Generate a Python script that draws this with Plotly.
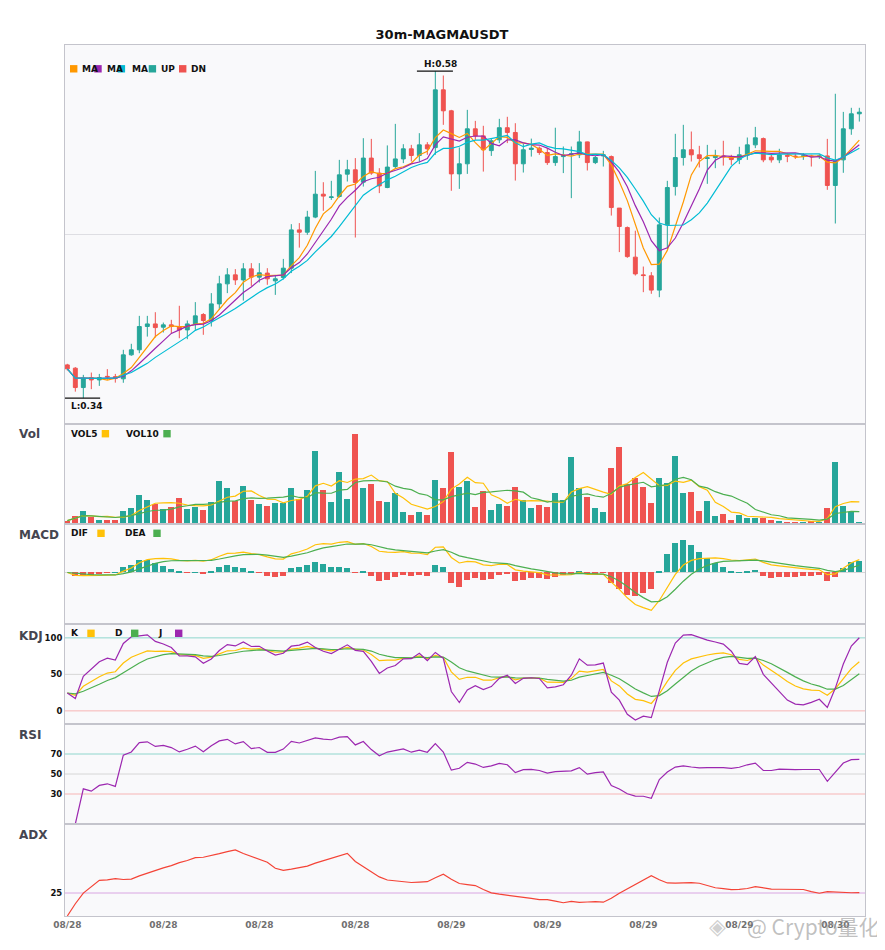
import numpy as np
import pandas as pd
import plotly.graph_objects as go
from plotly.subplots import make_subplots

symbol = "MAGMAUSDT"
interval = "30m"

# ---- data (100 candles) ----
opens = [
    0.3644, 0.3620, 0.3478, 0.3551, 0.3534, 0.3560, 0.3558, 0.3542, 0.3718, 0.3755,
    0.3926, 0.3945, 0.3921, 0.3938, 0.3923, 0.3901, 0.3945, 0.4014, 0.3970, 0.4092,
    0.4239, 0.4305, 0.4268, 0.4349, 0.4288, 0.4318, 0.4261, 0.4285, 0.4354, 0.4635,
    0.4618, 0.4729, 0.4897, 0.4873, 0.4880, 0.5044, 0.5076, 0.4985, 0.5162, 0.5052,
    0.4946, 0.5100, 0.5156, 0.5230, 0.5181, 0.5259, 0.5239, 0.5663, 0.5509, 0.5046,
    0.5120, 0.5377, 0.5325, 0.5217, 0.5296, 0.5385, 0.5350, 0.5120, 0.5225, 0.5235,
    0.5203, 0.5129, 0.5173, 0.5190, 0.5186, 0.5281, 0.5129, 0.5178, 0.5173, 0.4795,
    0.4652, 0.4435, 0.4305, 0.4298, 0.4193, 0.4672, 0.4953, 0.5166, 0.5223, 0.5186,
    0.5159, 0.5166, 0.5178, 0.5173, 0.5151, 0.5186, 0.5259, 0.5305, 0.5169, 0.5149,
    0.5181, 0.5176, 0.5176, 0.5178, 0.5173, 0.5178, 0.4961, 0.5149, 0.5377, 0.5487,
]
highs = [
    0.3652, 0.3628, 0.3571, 0.3588, 0.3578, 0.3613, 0.3578, 0.3755, 0.3799, 0.4004,
    0.4004, 0.4031, 0.3955, 0.3975, 0.4078, 0.3970, 0.4105, 0.4024, 0.4171, 0.4298,
    0.4354, 0.4347, 0.4391, 0.4391, 0.4391, 0.4354, 0.4300, 0.4422, 0.4677, 0.4685,
    0.4775, 0.5068, 0.4985, 0.4995, 0.5149, 0.5149, 0.5162, 0.5308, 0.5303, 0.5088,
    0.5255, 0.5413, 0.5264, 0.5259, 0.5345, 0.5279, 0.5800, 0.5768, 0.5516, 0.5240,
    0.5516, 0.5435, 0.5399, 0.5308, 0.5450, 0.5465, 0.5418, 0.5267, 0.5305, 0.5247,
    0.5235, 0.5385, 0.5247, 0.5247, 0.5362, 0.5283, 0.5178, 0.5215, 0.5181, 0.4795,
    0.4660, 0.4629, 0.4366, 0.4325, 0.4726, 0.4995, 0.5340, 0.5406, 0.5357, 0.5252,
    0.5259, 0.5223, 0.5289, 0.5186, 0.5245, 0.5313, 0.5391, 0.5313, 0.5186, 0.5230,
    0.5200, 0.5191, 0.5198, 0.5186, 0.5191, 0.5303, 0.5634, 0.5501, 0.5531, 0.5531,
]
lows = [
    0.3603, 0.3448, 0.3400, 0.3466, 0.3490, 0.3534, 0.3514, 0.3513, 0.3711, 0.3730,
    0.3852, 0.3845, 0.3882, 0.3877, 0.3840, 0.3833, 0.3901, 0.3865, 0.3926, 0.4048,
    0.4171, 0.4231, 0.4116, 0.4224, 0.4249, 0.4232, 0.4158, 0.4271, 0.4318, 0.4505,
    0.4599, 0.4721, 0.4775, 0.4855, 0.4872, 0.4990, 0.4579, 0.4953, 0.5039, 0.4905,
    0.4941, 0.5088, 0.5125, 0.5137, 0.5132, 0.5186, 0.5186, 0.5406, 0.4922, 0.4936,
    0.5046, 0.5296, 0.5063, 0.5178, 0.5272, 0.5272, 0.4997, 0.5056, 0.5173, 0.5186,
    0.5112, 0.5105, 0.5052, 0.4868, 0.5162, 0.5071, 0.5118, 0.5100, 0.4740, 0.4472,
    0.4430, 0.4300, 0.4178, 0.4166, 0.4141, 0.4494, 0.4887, 0.5107, 0.5137, 0.5093,
    0.4973, 0.5088, 0.5107, 0.5112, 0.5118, 0.5149, 0.5235, 0.5132, 0.5129, 0.5125,
    0.5132, 0.5156, 0.5149, 0.5100, 0.5156, 0.4929, 0.4682, 0.5054, 0.5333, 0.5430,
]
closes = [
    0.3615, 0.3478, 0.3547, 0.3534, 0.3551, 0.3556, 0.3544, 0.3718, 0.3755, 0.3926,
    0.3945, 0.3918, 0.3938, 0.3926, 0.3901, 0.3945, 0.4004, 0.3970, 0.4092, 0.4239,
    0.4305, 0.4268, 0.4349, 0.4288, 0.4320, 0.4276, 0.4276, 0.4354, 0.4635, 0.4618,
    0.4729, 0.4897, 0.4883, 0.4877, 0.5039, 0.5076, 0.4983, 0.5162, 0.5052, 0.4958,
    0.5096, 0.5156, 0.5230, 0.5181, 0.5259, 0.5230, 0.5663, 0.5509, 0.5046, 0.5120,
    0.5377, 0.5325, 0.5223, 0.5289, 0.5385, 0.5350, 0.5120, 0.5223, 0.5235, 0.5203,
    0.5129, 0.5173, 0.5184, 0.5193, 0.5281, 0.5129, 0.5166, 0.5186, 0.4799, 0.4660,
    0.4439, 0.4312, 0.4300, 0.4193, 0.4672, 0.4946, 0.5166, 0.5223, 0.5186, 0.5159,
    0.5164, 0.5178, 0.5171, 0.5151, 0.5186, 0.5259, 0.5311, 0.5149, 0.5149, 0.5186,
    0.5176, 0.5174, 0.5178, 0.5173, 0.5178, 0.4961, 0.5142, 0.5377, 0.5487, 0.5499,
]
# volume in thousands (no scale shown on the chart)
volumes = [
    10, 25, 40, 22, 13, 13, 13, 40, 49, 88,
    73, 61, 46, 52, 79, 46, 52, 43, 67, 130,
    109, 70, 115, 73, 61, 55, 64, 64, 109, 76,
    103, 220, 103, 67, 157, 76, 271, 109, 121, 70,
    67, 94, 37, 28, 37, 28, 133, 109, 217, 112,
    130, 52, 100, 43, 61, 55, 112, 73, 49, 58,
    52, 94, 73, 202, 109, 82, 49, 37, 169, 232,
    121, 139, 112, 64, 139, 124, 205, 94, 97, 40,
    70, 25, 31, 13, 28, 19, 19, 19, 13, 10,
    7, 7, 7, 10, 7, 49, 187, 55, 37, 4,
]

tick_idx = [0, 12, 24, 36, 48, 60, 72, 84, 96]
tick_labels = ["08/28", "08/28", "08/28", "08/28", "08/29", "08/29", "08/29", "08/29", "08/30"]

# ---- indicators ----
df = pd.DataFrame({"open": opens, "high": highs, "low": lows, "close": closes, "vol": volumes})
x = list(range(len(df)))
c = df["close"]

ma5 = c.rolling(5, min_periods=1).mean()
ma7 = c.rolling(7, min_periods=1).mean()
ma10 = c.rolling(10, min_periods=1).mean()

vol5 = df["vol"].rolling(5, min_periods=1).mean()
vol10 = df["vol"].rolling(10, min_periods=1).mean()

# fast MACD (6, 13, 5)
dif = c.ewm(span=6, adjust=False).mean() - c.ewm(span=13, adjust=False).mean()
dea = dif.ewm(span=5, adjust=False).mean()
hist = 2 * (dif - dea)

low9 = df["low"].rolling(9, min_periods=1).min()
high9 = df["high"].rolling(9, min_periods=1).max()
rsv = (c - low9) / (high9 - low9) * 100
k = rsv.ewm(com=2, adjust=False).mean()
d = k.ewm(com=2, adjust=False).mean()
j = 3 * k - 2 * d

delta = c.diff()
gain = delta.clip(lower=0).ewm(alpha=1 / 14, adjust=True).mean()
loss = (-delta.clip(upper=0)).ewm(alpha=1 / 14, adjust=True).mean()
rsi = 100 * gain / (gain + loss)

prev_c = c.shift(1)
tr = pd.concat([df["high"] - df["low"], (df["high"] - prev_c).abs(), (df["low"] - prev_c).abs()], axis=1).max(axis=1)
up_move = df["high"].diff()
dn_move = -df["low"].diff()
pdm = pd.Series(np.where((up_move > dn_move) & (up_move > 0), up_move, 0.0))
mdm = pd.Series(np.where((dn_move > up_move) & (dn_move > 0), dn_move, 0.0))
atr = tr.ewm(span=14, adjust=False).mean()
pdi = 100 * pdm.ewm(span=14, adjust=False).mean() / atr
mdi = 100 * mdm.ewm(span=14, adjust=False).mean() / atr
dx = (100 * (pdi - mdi).abs() / (pdi + mdi)).fillna(0)
adx = dx.ewm(span=14, adjust=False).mean()

# ---- styling ----
FONT = "DejaVu Sans"
G, R = "#26a69a", "#ef5350"
C_MA5, C_MA7, C_MA10 = "#ff9800", "#9c27b0", "#00bcd4"
C_Y, C_GR, C_PU = "#ffc107", "#4caf50", "#9c27b0"
BORDER = "#c4c4cc"
OFF = 8                      # page body margin
W, H = 885 - OFF, 950 - OFF
ML, MR, MT, MB = 65 - OFF, 20, 45 - OFF, 34
PW, PH = W - ML - MR, H - MT - MB

bar_colors = [G if cl >= op else R for op, cl in zip(opens, closes)]
hist_colors = [G if v >= 0 else R for v in hist]


def px(xp):
    # page pixel -> paper x
    return (xp - OFF - ML) / PW


def py(yp):
    # page pixel -> paper y
    return (H - MB - (yp - OFF)) / PH


fig = make_subplots(rows=6, cols=1, shared_xaxes=True, vertical_spacing=0,
                    row_heights=[379, 100, 100, 100, 100, 92])

# price
fig.add_trace(go.Candlestick(
    x=x, open=opens, high=highs, low=lows, close=closes,
    increasing=dict(line=dict(color=G, width=1), fillcolor=G),
    decreasing=dict(line=dict(color=R, width=1), fillcolor=R),
    name="K"), row=1, col=1)
for s, col, nm in [(ma5, C_MA5, "MA5"), (ma7, C_MA7, "MA7"), (ma10, C_MA10, "MA10")]:
    fig.add_trace(go.Scatter(x=x, y=s, mode="lines", line=dict(color=col, width=1.2), name=nm), row=1, col=1)

# volume
fig.add_trace(go.Bar(x=x, y=volumes, marker_color=bar_colors, marker_line_width=0, width=0.75, name="Vol"), row=2, col=1)
fig.add_trace(go.Scatter(x=x, y=vol5, mode="lines", line=dict(color=C_Y, width=1.2), name="VOL5"), row=2, col=1)
fig.add_trace(go.Scatter(x=x, y=vol10, mode="lines", line=dict(color=C_GR, width=1.2), name="VOL10"), row=2, col=1)

# macd
fig.add_trace(go.Bar(x=x, y=hist, marker_color=hist_colors, marker_line_width=0, width=0.75, name="MACD"), row=3, col=1)
fig.add_trace(go.Scatter(x=x, y=dif, mode="lines", line=dict(color=C_Y, width=1.2), name="DIF"), row=3, col=1)
fig.add_trace(go.Scatter(x=x, y=dea, mode="lines", line=dict(color=C_GR, width=1.2), name="DEA"), row=3, col=1)

# kdj
fig.add_trace(go.Scatter(x=x, y=k, mode="lines", line=dict(color=C_Y, width=1.2), name="K"), row=4, col=1)
fig.add_trace(go.Scatter(x=x, y=d, mode="lines", line=dict(color=C_GR, width=1.2), name="D"), row=4, col=1)
fig.add_trace(go.Scatter(x=x, y=j, mode="lines", line=dict(color=C_PU, width=1.2), name="J"), row=4, col=1)

# rsi / adx
fig.add_trace(go.Scatter(x=x, y=rsi, mode="lines", line=dict(color=C_PU, width=1.2), name="RSI"), row=5, col=1)
fig.add_trace(go.Scatter(x=x, y=adx, mode="lines", line=dict(color="#f44336", width=1.2), name="ADX"), row=6, col=1)

# reference lines
for yv, colr, row in [(100, "#8fd6cd", 4), (50, "#d6d6d6", 4), (0, "#f7b5b5", 4),
                      (70, "#8fd6cd", 5), (50, "#d6d6d6", 5), (30, "#f7b5b5", 5),
                      (25, "#d9a6e2", 6)]:
    fig.add_hline(y=yv, line=dict(color=colr, width=1), layer="below", row=row, col=1)

# axes
fig.update_xaxes(range=[-0.29, 99.71], showgrid=False, zeroline=False, showline=True, mirror=True,
                 linecolor=BORDER, linewidth=1, ticks="", rangeslider_visible=False)
fig.update_xaxes(tickmode="array", tickvals=tick_idx, ticktext=tick_labels,
                 tickfont=dict(family=FONT, size=9, color="#707070", weight="bold"), row=6, col=1)
fig.update_yaxes(showgrid=False, zeroline=False, showline=True, mirror=True, linecolor=BORDER,
                 linewidth=1, ticks="", showticklabels=False)

p_hi, p_lo = max(highs), min(lows)
span = p_hi - p_lo
y_lo, y_hi = p_lo - 0.079 * span, p_hi + 0.080 * span
fig.update_yaxes(range=[y_lo, y_hi], showgrid=True, gridcolor="#dedee3",
                 tickmode="array", tickvals=[(y_lo + y_hi) / 2], row=1, col=1)
fig.update_yaxes(range=[0, max(volumes) * 1.107], row=2, col=1)
m = max(dif.abs().max(), dea.abs().max(), hist.abs().max())
fig.update_yaxes(range=[-1.36 * m, 1.28 * m], zeroline=True, zerolinecolor="#d6d6d6", zerolinewidth=1,
                 row=3, col=1)
tick_font = dict(family=FONT, size=8.5, color="#111", weight="bold")
fig.update_yaxes(range=[-18, 119], showticklabels=True, tickmode="array", tickvals=[0, 50, 100],
                 tickfont=tick_font, row=4, col=1)
fig.update_yaxes(range=[0, 100], showticklabels=True, tickmode="array", tickvals=[30, 50, 70],
                 tickfont=tick_font, row=5, col=1)
fig.update_yaxes(range=[0, 100], showticklabels=True, tickmode="array", tickvals=[25],
                 tickfont=tick_font, row=6, col=1)

shapes = []
annotations = []

# high / low markers
hi_i, lo_i = int(np.argmax(highs)), int(np.argmin(lows))
shapes.append(dict(type="line", xref="x", yref="y", x0=hi_i - 2.3, x1=hi_i + 2.2, y0=p_hi, y1=p_hi,
                   line=dict(color="#111", width=1.2)))
shapes.append(dict(type="line", xref="x", yref="y", x0=lo_i - 2.4, x1=lo_i + 2.1, y0=p_lo, y1=p_lo,
                   line=dict(color="#111", width=1.2)))
annotations.append(dict(x=hi_i + 0.7, y=p_hi, xref="x", yref="y", text=f"H:{p_hi:.2f}", showarrow=False,
                        yanchor="bottom", yshift=0, font=dict(family=FONT, size=9, color="#111", weight="bold")))
annotations.append(dict(x=lo_i + 0.4, y=p_lo, xref="x", yref="y", text=f"L:{p_lo:.2f}", showarrow=False,
                        yanchor="top", yshift=-1, font=dict(family=FONT, size=9, color="#111", weight="bold")))


def legend(items, ycen):
    for kind, x0, val, colr in items:
        if kind == "sq":
            shapes.append(dict(type="rect", xref="paper", yref="paper", x0=px(x0), x1=px(x0 + 7.4),
                               y0=py(ycen + 3.7), y1=py(ycen - 3.7), fillcolor=colr, line=dict(width=0)))
        else:
            annotations.append(dict(x=px(x0), y=py(ycen), xref="paper", yref="paper", text=val,
                                    showarrow=False, xanchor="left", yanchor="middle",
                                    font=dict(family=FONT, size=9, color="#111", weight="bold")))


legend([("sq", 70, "", C_MA5), ("tx", 80, "MA", ""), ("sq", 94.3, "", C_MA7), ("tx", 104.5, "MA", ""),
        ("sq", 117.7, "", C_MA10), ("tx", 130, "MA", ""), ("sq", 148.7, "", G), ("tx", 158.5, "UP", ""),
        ("sq", 179, "", R), ("tx", 188.5, "DN", "")], 68.8)
legend([("tx", 69, "VOL5", ""), ("sq", 101.7, "", C_Y), ("tx", 124, "VOL10", ""), ("sq", 163.3, "", C_GR)], 433.7)
legend([("tx", 69, "DIF", ""), ("sq", 97.3, "", C_Y), ("tx", 122.5, "DEA", ""), ("sq", 153.3, "", C_GR)], 533.3)
legend([("tx", 69, "K", ""), ("sq", 87.3, "", C_Y), ("tx", 112.5, "D", ""), ("sq", 131, "", C_GR),
        ("tx", 156, "J", ""), ("sq", 175, "", C_PU)], 633.3)

for label, yy in [("Vol", 434), ("MACD", 535), ("KDJ", 636), ("RSI", 735), ("ADX", 835)]:
    annotations.append(dict(x=px(17), y=py(yy), xref="paper", yref="paper", text=label, showarrow=False,
                            xanchor="left", yanchor="middle",
                            font=dict(family=FONT, size=12, color="#454550", weight="bold")))

# watermark (logo glyph + text)
annotations.append(dict(x=px(717), y=py(926), xref="paper", yref="paper", text="◈",
                        showarrow=False, xanchor="center", yanchor="middle",
                        font=dict(family=FONT, size=22, color="rgba(170,170,170,0.55)")))
annotations.append(dict(x=px(882), y=py(926), xref="paper", yref="paper", text="@ Crypto量化",
                        showarrow=False, xanchor="right", yanchor="middle",
                        font=dict(family="Noto Sans CJK SC", size=21, color="rgba(150,150,150,0.6)")))

fig.update_layout(
    width=W, height=H,
    margin=dict(l=ML, r=MR, t=MT, b=MB),
    paper_bgcolor="white", plot_bgcolor="#f9f9fb",
    showlegend=False,
    title=dict(text=f"{interval}-{symbol}", x=px(442), xref="paper", xanchor="center",
               y=1 - (34 - OFF) / H, yref="container", yanchor="middle",
               font=dict(family=FONT, size=13, color="#111", weight="bold")),
    font=dict(family=FONT),
    shapes=list(fig.layout.shapes) + shapes,
    annotations=annotations,
    bargap=0,
)

fig.write_html("out.html")
